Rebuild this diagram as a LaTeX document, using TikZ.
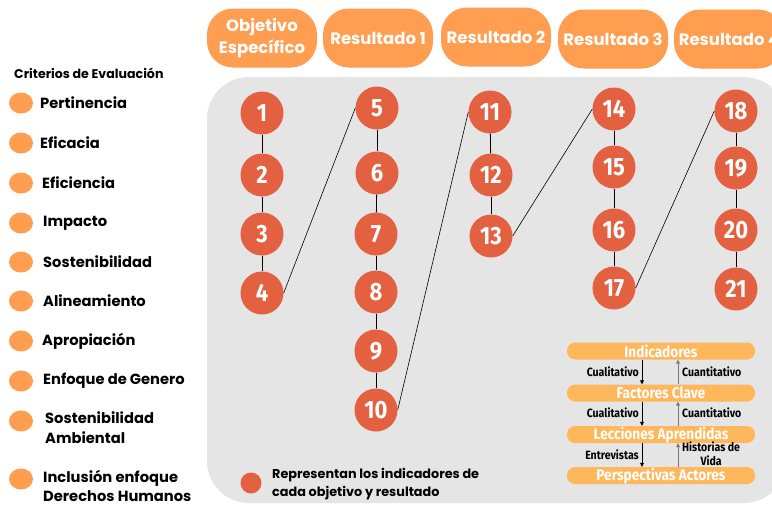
\documentclass[tikz,border=0pt]{standalone}
\usepackage{fontspec}
\setmainfont{Poppins}
\newfontfamily\condfont[FakeStretch=0.88]{Fira Sans}
\usetikzlibrary{arrows.meta,shapes.geometric}
\definecolor{pillorange}{RGB}{255,157,80}
\definecolor{indred}{RGB}{227,97,64}
\definecolor{barorange}{RGB}{255,183,92}
\definecolor{panelgray}{RGB}{229,229,229}
\definecolor{upgray}{RGB}{120,120,120}

\begin{document}
\begin{tikzpicture}
  [x=1pt,y=-1pt,
   indic/.style={circle,fill=indred,text=white,inner sep=0pt,minimum size=43pt,
     font=\condfont\bfseries\fontsize{25}{25}\selectfont},
   pill/.style={rounded corners=26pt,fill=pillorange,text=white,minimum width=110pt,
     minimum height=59pt,inner sep=0pt,align=center,font=\bfseries\fontsize{16.5}{22}\selectfont},
   critdot/.style={ellipse,fill=pillorange,minimum width=24pt,minimum height=21pt,inner sep=0pt},
   crit/.style={anchor=west,inner sep=0pt,align=left,font=\bfseries\fontsize{14.7}{20}\selectfont},
   bar/.style={rounded corners=8pt,fill=barorange,text=white,minimum width=188pt,
     minimum height=17pt,inner sep=0pt,font=\condfont\bfseries\fontsize{15.5}{15.5}\selectfont},
   lbl/.style={inner sep=0pt,align=center,font=\condfont\bfseries\fontsize{12}{14}\selectfont},
   link/.style={draw=black,line width=0.6pt}]

  \useasboundingbox (0,0) rectangle (772,506);
  \clip (0,0) rectangle (772,506);

  % gray panel
  \fill[panelgray,rounded corners=42pt] (207,77) rectangle (786,503);

  % headers
  \node[pill] (obj) at (262,38) {Objetivo\\Específico};
  \node[pill] (r1) at (378,38) {Resultado 1};
  \node[pill] (r2) at (496,37) {Resultado 2};
  \node[pill] (r3) at (613,39) {Resultado 3};
  \node[pill] (r4) at (729,39) {Resultado 4};

  % criterios
  \node[anchor=west,inner sep=0pt,font=\bfseries\fontsize{12.6}{14}\selectfont] (crt) at (14,73) {Criterios de Evaluación};
  \foreach \y in {103,143,183,223,262,301,341,381,421,479}
    \node[critdot] (d\y) at (21,\y) {};
  \node[crit] (c1) at (40,103) {Pertinencia};
  \node[crit] (c2) at (40,143) {Eficacia};
  \node[crit] (c3) at (42,183) {Eficiencia};
  \node[crit] (c4) at (43,223) {Impacto};
  \node[crit] (c5) at (43,262) {Sostenibilidad};
  \node[crit] (c6) at (43,301) {Alineamiento};
  \node[crit] (c7) at (42,341) {Apropiación};
  \node[crit] (c8) at (43,381) {Enfoque de Genero};
  \node[crit] (c9) at (45,428) {Sostenibilidad\\Ambiental};
  \node[crit,font=\bfseries\fontsize{14.7}{19}\selectfont] (c10) at (43,485.5) {Inclusión enfoque\\Derechos Humanos};

  % indicadores
  \node[indic] (n1) at (262,113) {1};
  \node[indic] (n2) at (262,175) {2};
  \node[indic] (n3) at (262,234) {3};
  \node[indic] (n4) at (262,293) {4};
  \node[indic] (n5) at (377,108) {5};
  \node[indic] (n6) at (377,173) {6};
  \node[indic] (n7) at (376,234) {7};
  \node[indic] (n8) at (376,292) {8};
  \node[indic] (n9) at (376,351) {9};
  \node[indic] (n10) at (376,410) {10};
  \node[indic] (n11) at (490,112) {11};
  \node[indic] (n12) at (491,175) {12};
  \node[indic] (n13) at (491,236) {13};
  \node[indic] (n14) at (614,109) {14};
  \node[indic] (n15) at (614,167) {15};
  \node[indic] (n16) at (614,230) {16};
  \node[indic] (n17) at (614,288) {17};
  \node[indic] (n18) at (736,111) {18};
  \node[indic] (n19) at (736,168) {19};
  \node[indic] (n20) at (736,230) {20};
  \node[indic] (n21) at (736,289) {21};
  \foreach \from/\to in {n1/n2,n2/n3,n3/n4,n5/n6,n6/n7,n7/n8,n8/n9,n9/n10,n11/n12,n12/n13,n14/n15,n15/n16,n16/n17,n18/n19,n19/n20,n20/n21}
    \draw[link,line width=0.8pt] (\from) -- (\to);
  \foreach \from/\to in {n4/n5,n10/n11,n13/n14,n17/n18}
    \draw[link] (\from.east) -- (\to.west);

  % leyenda
  \node[circle,fill=indred,minimum size=21pt,inner sep=0pt] (ldot) at (251,483) {};
  \node[crit,font=\bfseries\fontsize{12.8}{18}\selectfont] (ltxt) at (272,484) {Representan los indicadores de\\cada objetivo y resultado};

  % niveles
  \node[bar] (b1) at (661,351) {Indicadores};
  \node[bar] (b2) at (661,393) {Factores Clave};
  \node[bar] (b3) at (661,434.5) {Lecciones Aprendidas};
  \node[bar] (b4) at (661,475.5) {Perspectivas Actores};
  \coordinate (dn) at (642,0);
  \coordinate (up) at (678,0);
  \foreach \a/\b in {b1/b2,b2/b3,b3/b4}{
    \draw[line width=0.8pt,-{Triangle[length=4pt,width=4pt]}] (\a.south -| dn) -- (\b.north -| dn);
    \draw[upgray,line width=0.8pt,-{Triangle[length=4pt,width=4pt]}] (\b.north -| up) -- (\a.south -| up);
  }
  \node[lbl,anchor=east] (q1) at (639,372) {Cualitativo};
  \node[lbl,anchor=west] (k1) at (682,372) {Cuantitativo};
  \node[lbl,anchor=east] (q2) at (639,413) {Cualitativo};
  \node[lbl,anchor=west] (k2) at (682,413) {Cuantitativo};
  \node[lbl,anchor=east] (q3) at (639,455) {Entrevistas};
  \node[lbl,anchor=west] (k3) at (682,453.5) {Historias de\\Vida};
\end{tikzpicture}
\end{document}
